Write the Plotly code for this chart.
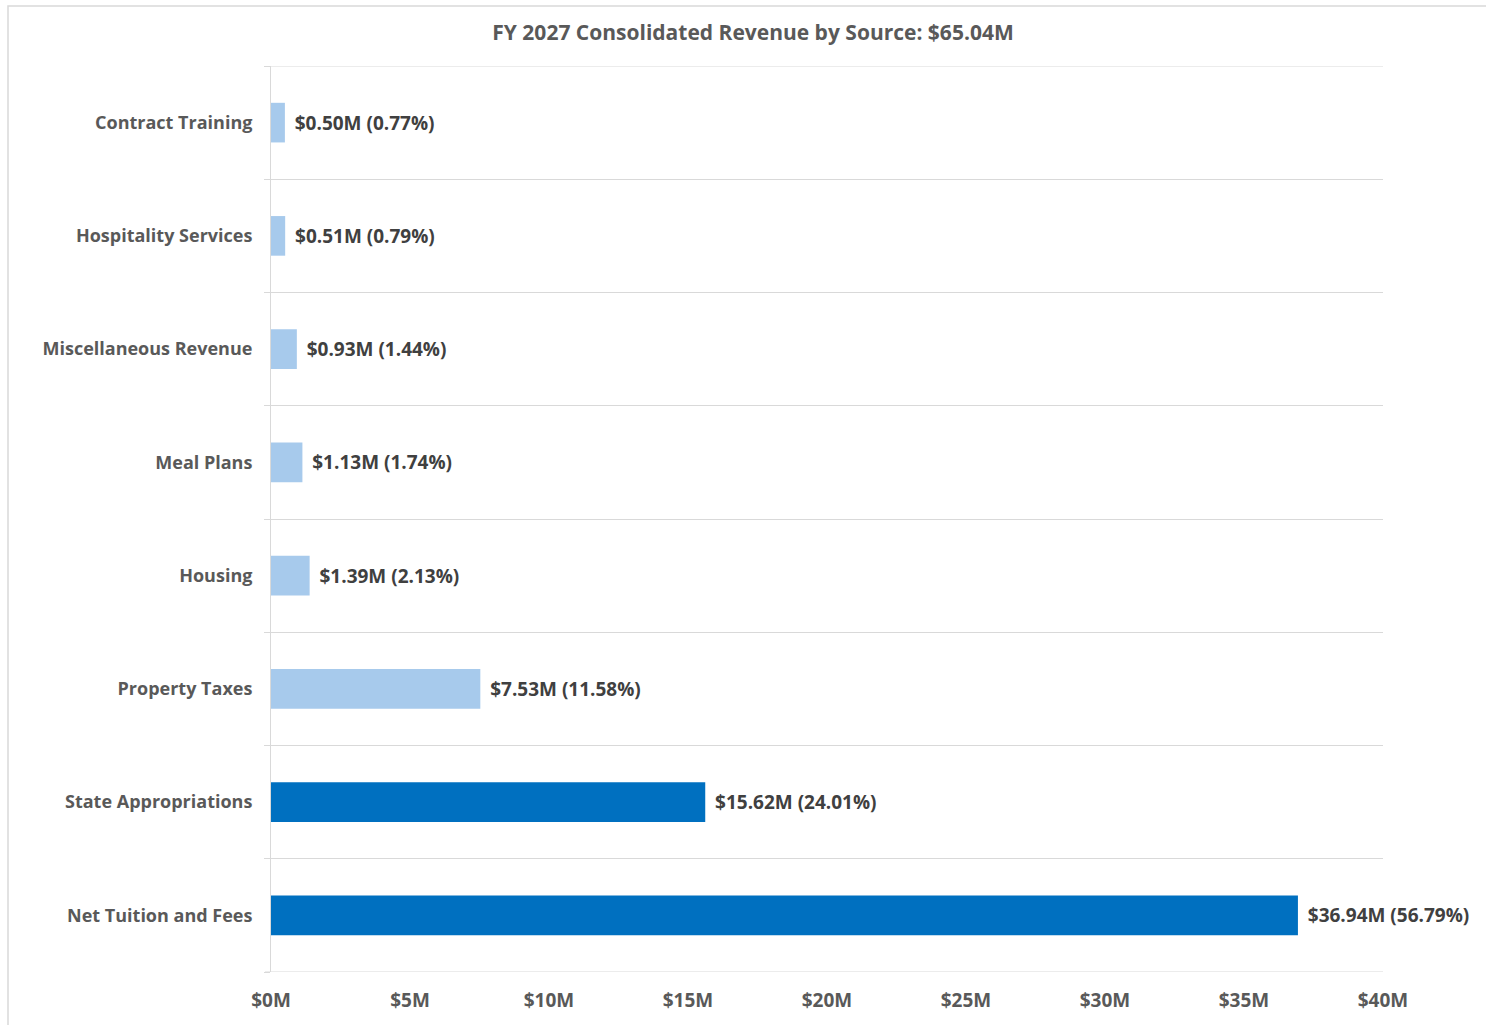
import plotly.graph_objects as go

categories = ["Net Tuition and Fees", "State Appropriations", "Property Taxes", "Housing",
              "Meal Plans", "Miscellaneous Revenue", "Hospitality Services", "Contract Training"]
values = [36.94, 15.62, 7.53, 1.39, 1.13, 0.93, 0.51, 0.50]
percents = [56.79, 24.01, 11.58, 2.13, 1.74, 1.44, 0.79, 0.77]
total = 65.04
x_ticks = [0, 5, 10, 15, 20, 25, 30, 35, 40]

DARK = "#0070C0"
LIGHT = "#A7CAEC"
colors = [DARK if p > 20 else LIGHT for p in percents]
labels = [f"\u200a ${v:.2f}M ({p:.2f}%)" for v, p in zip(values, percents)]
ypos = list(range(len(categories)))

FONT = "Open Sans"
W, H = 1486, 1025
L, R, T, B = 271, 103, 66, 53
pw, ph = W - L - R, H - T - B
GRID = "#D9D9D9"

fig = go.Figure(go.Bar(
    x=values, y=ypos, orientation="h", width=0.35,
    marker=dict(color=colors, line=dict(width=0)),
    text=labels, textposition="outside", cliponaxis=False,
    textfont=dict(family=FONT, size=19, color="#404040", weight="bold"),
    hoverinfo="skip",
))

edge = [-0.5, len(categories) - 0.5]
shapes = [dict(type="rect", xref="paper", yref="paper",
               x0=(8 - L) / pw, x1=1.3, y0=-0.2, y1=1 + (T - 6) / ph,
               line=dict(color=GRID, width=1.5), fillcolor="rgba(0,0,0,0)",
               layer="below")]
for e in edge:
    shapes.append(dict(type="line", xref="paper", yref="y",
                       x0=-6 / pw, x1=1, y0=e, y1=e,
                       line=dict(color=GRID, width=1), layer="below"))

fig.update_layout(
    width=W, height=H,
    margin=dict(l=L, r=R, t=T, b=B),
    paper_bgcolor="white", plot_bgcolor="white",
    showlegend=False,
    title=dict(text=f"FY 2027 Consolidated Revenue by Source: ${total:.2f}M",
               x=753 / W, xanchor="center", xref="container",
               y=1 - 33 / H, yanchor="middle", yref="container",
               font=dict(family=FONT, size=21, color="#595959", weight="bold")),
    xaxis=dict(range=[0, 40], tickvals=x_ticks,
               ticktext=[f"${t}M" for t in x_ticks],
               showgrid=False, zeroline=False, showline=False, ticks="",
               tickfont=dict(family=FONT, size=19, color="#595959", weight="bold"),
               ticklabelstandoff=15),
    yaxis=dict(range=edge, tickvals=ypos, ticktext=categories,
               showgrid=False, zeroline=False, ticks="",
               showline=True, linecolor=GRID, linewidth=1,
               tickfont=dict(family=FONT, size=18, color="#595959", weight="bold"),
               ticklabelstandoff=14,
               minor=dict(tick0=0.5, dtick=1, showgrid=True, gridcolor=GRID,
                          gridwidth=1, ticks="outside", ticklen=6, tickcolor=GRID)),
    shapes=shapes,
)

fig.write_html("out.html")
